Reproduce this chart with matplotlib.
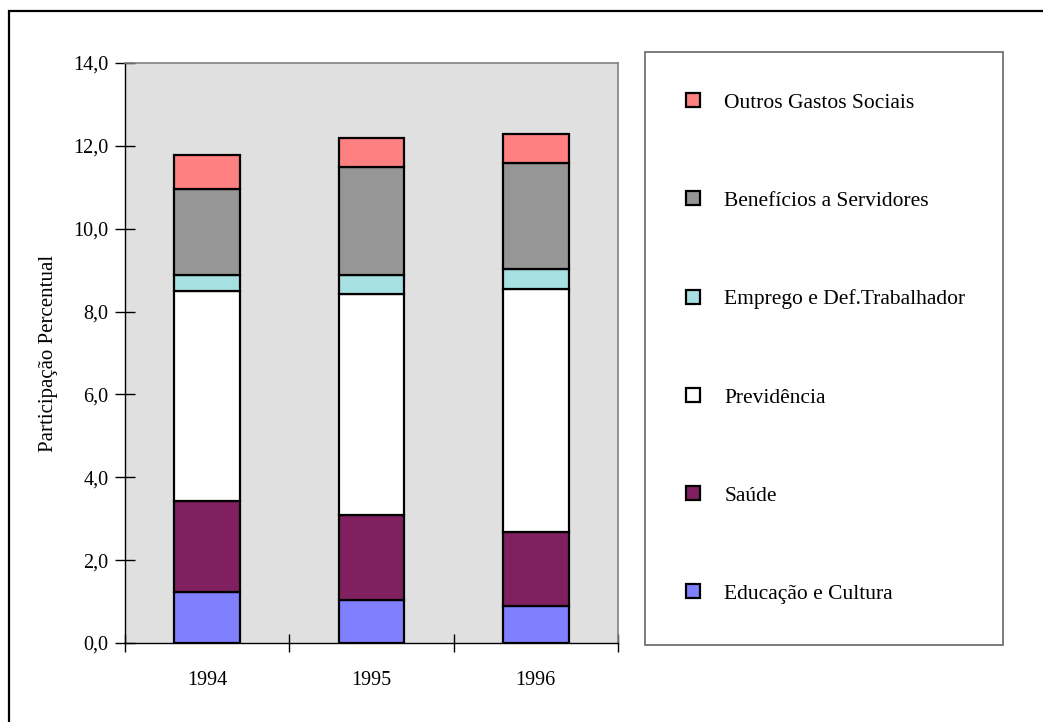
import numpy as np
import matplotlib.pyplot as plt
from matplotlib.patches import Rectangle
from matplotlib.ticker import FuncFormatter

# participação percentual por área, 1994-1996
anos = ["1994", "1995", "1996"]
educacao = [1.23, 1.03, 0.90]
saude = [2.20, 2.07, 1.77]
previdencia = [5.07, 5.33, 5.87]
emprego = [0.38, 0.45, 0.49]
beneficios = [2.09, 2.61, 2.55]
outros = [0.80, 0.71, 0.71]

series = [
    ("Educação e Cultura", educacao, "#8080FF"),
    ("Saúde", saude, "#802060"),
    ("Previdência", previdencia, "#FFFFFF"),
    ("Emprego e Def.Trabalhador", emprego, "#A6E0E0"),
    ("Benefícios a Servidores", beneficios, "#969696"),
    ("Outros Gastos Sociais", outros, "#FF8080"),
]

plt.rcParams['font.family'] = ['Liberation Serif', 'DejaVu Serif']

fig = plt.figure(figsize=(10.43, 7.22), dpi=100)
ax = fig.add_axes([0.1198, 0.1094, 0.4727, 0.8033])
ax.set_facecolor("#E0E0E0")

x = np.arange(len(anos))
base = np.zeros(len(anos))
handles = []
for nome, valores, cor in series:
    b = ax.bar(x, valores, 0.4, bottom=base, color=cor, edgecolor="black",
               linewidth=1.6, label=nome)
    handles.append(b)
    base = base + np.array(valores)

ax.set_xlim(-0.5, 2.5)
ax.set_ylim(0, 14)
ax.set_yticks(np.arange(0, 14.1, 2))
ax.yaxis.set_major_formatter(FuncFormatter(lambda v, p: f"{v:.1f}".replace(".", ",")))
ax.set_xticks(x)
ax.set_xticklabels(anos)
ax.set_xticks([-0.5, 0.5, 1.5, 2.5], minor=True)
ax.tick_params(axis="x", which="major", length=0, pad=20, labelsize=14.5)
ax.tick_params(axis="x", which="minor", direction="inout", length=13, width=1)
ax.tick_params(axis="y", direction="inout", length=14, width=1, labelsize=14.5, pad=5)
ax.set_ylabel("Participação Percentual", fontsize=15, labelpad=11)

for s in ["top", "right"]:
    ax.spines[s].set_color("#808080")
    ax.spines[s].set_linewidth(1.2)
for s in ["left", "bottom"]:
    ax.spines[s].set_color("black")
    ax.spines[s].set_linewidth(1.0)

leg = fig.legend(handles[::-1], [s[0] for s in series][::-1],
                 loc="upper left",
                 bbox_to_anchor=(645 / 1043, 1 - 52 / 722, 358 / 1043, 0),
                 mode="expand", fontsize=15.5, frameon=True, fancybox=False,
                 borderpad=1.92, labelspacing=3.65, handlelength=0.62,
                 handleheight=0.62, handletextpad=1.15, borderaxespad=0)
leg.get_frame().set_edgecolor("#404040")
leg.get_frame().set_linewidth(1.2)

# moldura externa
fig.add_artist(Rectangle((9 / 1043, -0.1), 1.2, 1.1 - 11 / 722, transform=fig.transFigure,
                         fill=False, edgecolor="black", linewidth=1.6))

fig.savefig("out.png", dpi=100)
